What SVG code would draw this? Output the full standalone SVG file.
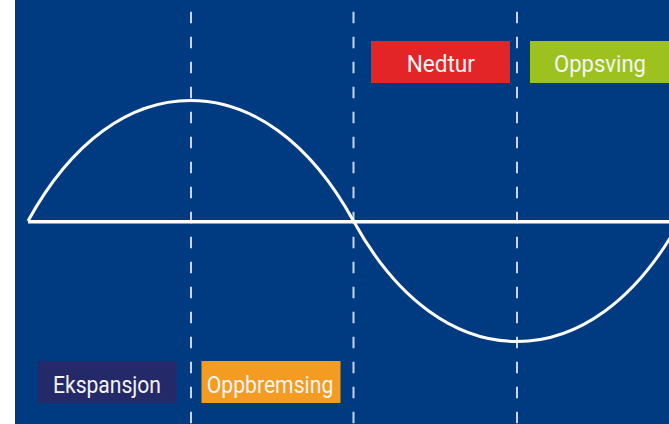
<svg xmlns="http://www.w3.org/2000/svg" width="669" height="424" viewBox="0 0 669 424">
<style>
.lbl{font-family:Roboto,"Liberation Sans",sans-serif;font-size:24px;fill:#f4f4f4;text-anchor:middle}
.dash{stroke:#c9d3e3;stroke-width:2;stroke-dasharray:11.5 13.5;fill:none}
.wave{stroke:#ffffff;fill:none;stroke-width:3}
</style>
<rect x="0" y="0" width="669" height="424" fill="#ffffff"/>
<rect x="15" y="0" width="654" height="424" fill="#003b82"/>
<g id="connectors">
<line class="dash" x1="191" y1="11.7" x2="191" y2="424"/>
<line class="dash" x1="353.5" y1="11.7" x2="353.5" y2="424"/>
<line class="dash" x1="517" y1="11.7" x2="517" y2="424"/>
<line x1="28" y1="221.8" x2="669" y2="221.8" stroke="#ffffff" stroke-width="3.5"/>
<path class="wave" d="M28,221 C72,141 130,100.5 190.5,100.5 C251,100.5 309.5,141 353.5,221 C397.5,301 456.5,341.5 517,341.5 C577.5,341.5 636,301 680,221"/>
</g>
<g id="ekspansjon">
<rect x="37.5" y="361" width="139" height="42" fill="#24296a"/>
<text class="lbl" x="107" y="392.7" textLength="108" lengthAdjust="spacingAndGlyphs">Ekspansjon</text>
</g>
<g id="oppbremsing">
<rect x="201.5" y="361" width="139" height="42" fill="#f39c21"/>
<text class="lbl" x="270" y="392.7" textLength="126.5" lengthAdjust="spacingAndGlyphs">Oppbremsing</text>
</g>
<g id="nedtur">
<rect x="371" y="41" width="139" height="42" fill="#e42528"/>
<text class="lbl" x="440.8" y="71.7" textLength="68.3" lengthAdjust="spacingAndGlyphs">Nedtur</text>
</g>
<g id="oppsving">
<rect x="530" y="41" width="145" height="42" fill="#9dc220"/>
<text class="lbl" x="600" y="71.7" textLength="92" lengthAdjust="spacingAndGlyphs">Oppsving</text>
</g>
</svg>
